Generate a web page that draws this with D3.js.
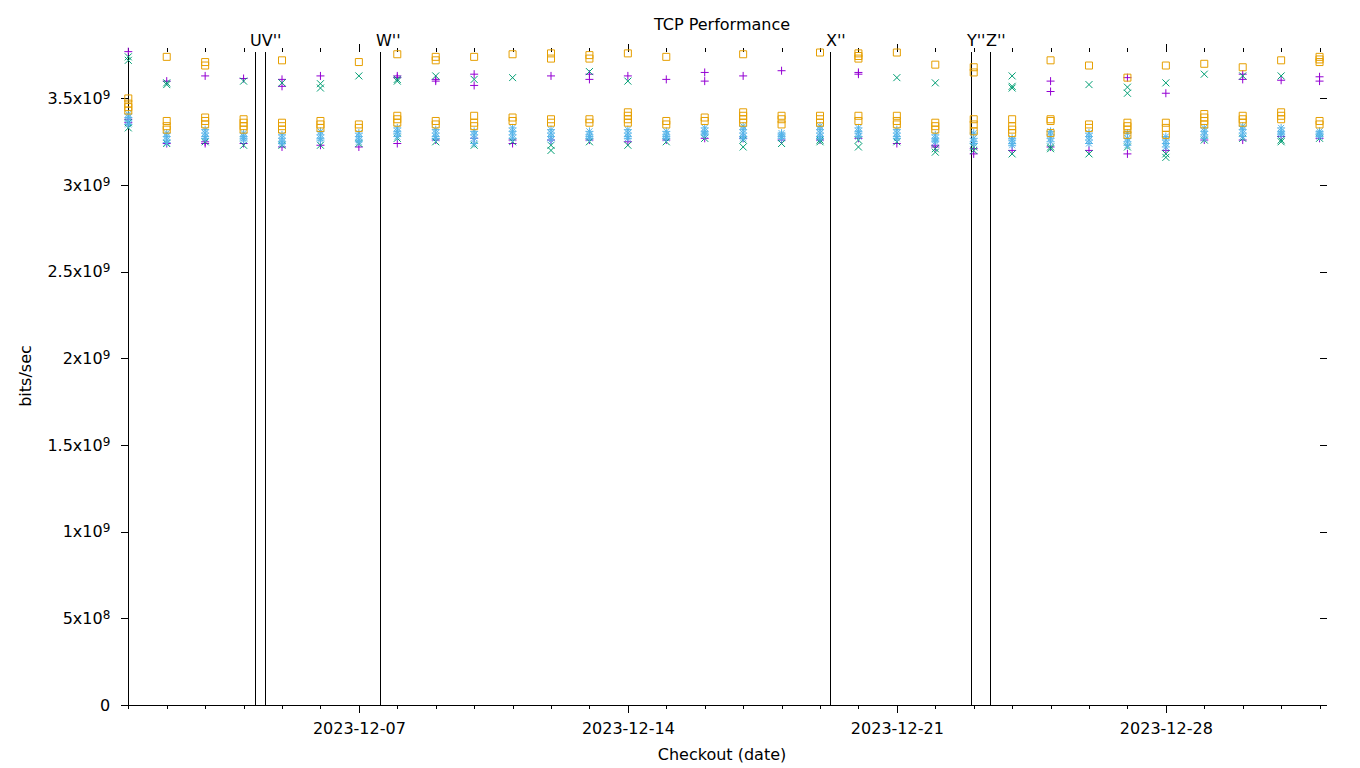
<!DOCTYPE html>
<html>
<head>
<meta charset="utf-8">
<script src="https://cdn.jsdelivr.net/npm/d3@7"></script>
<style>
body { margin: 0; background: #fff; }
text { font-family: "DejaVu Sans", sans-serif; fill: #000; }
.tick line, .domain, .event-line { shape-rendering: crispEdges; }
</style>
</head>
<body>
<div class="chart"></div>
<script>
// checkout days (x categories)
const checkoutDays = ["2023-12-01","2023-12-02","2023-12-03","2023-12-04","2023-12-05","2023-12-06",
  "2023-12-07","2023-12-08","2023-12-09","2023-12-10","2023-12-11","2023-12-12","2023-12-13",
  "2023-12-14","2023-12-15","2023-12-16","2023-12-17","2023-12-18","2023-12-19","2023-12-20",
  "2023-12-21","2023-12-22","2023-12-23","2023-12-24","2023-12-25","2023-12-26","2023-12-27",
  "2023-12-28","2023-12-29","2023-12-30","2023-12-31","2024-01-01"];

// bits/sec, in units of 1e9, one list per checkout day
const seriesPlus = [[3.77,3.38,3.36],[3.60,3.24],[3.63,3.25,3.24],[3.615,3.24],[3.61,3.57,3.22],
  [3.63,3.23],[3.22],[3.63,3.62,3.24],[3.61,3.60,3.26],[3.64,3.575,3.27],[3.24,3.26],[3.63,3.26],
  [3.64,3.61,3.26],[3.63,3.25],[3.61,3.26],[3.65,3.60,3.27],[3.63,3.27],[3.66,3.26],[3.26],
  [3.65,3.64,3.27],[3.24],[3.23,3.22],[3.21,3.18],[3.20],[3.60,3.54,3.22],[3.20],[3.62,3.18],
  [3.53,3.20],[3.26],[3.64,3.61,3.26],[3.605,3.28],[3.625,3.60,3.27]];

const seriesCross = [[3.74,3.72,3.36,3.33],[3.59,3.58,3.24],[3.25],[3.60,3.23],[3.59,3.23],
  [3.585,3.56,3.23],[3.63,3.24],[3.61,3.60,3.27],[3.63,3.25],[3.61,3.23],[3.62,3.25],[3.23,3.20],
  [3.655,3.25],[3.60,3.23],[3.25],[3.27],[3.26,3.22],[3.24],[3.25,3.26],[3.26,3.22],[3.62,3.25],
  [3.59,3.21,3.19],[3.22,3.20],[3.63,3.57,3.56,3.18],[3.22,3.21],[3.58,3.18],[3.565,3.53,3.22],
  [3.59,3.18,3.16],[3.64,3.26],[3.63,3.27],[3.63,3.26,3.25],[3.27]];

const seriesStar = [[3.41,3.39,3.37,3.35],[3.30,3.28,3.26,3.245],[3.32,3.30,3.28,3.27],
  [3.30,3.28,3.27,3.26],[3.29,3.27,3.25,3.24],[3.31,3.29,3.27,3.26],[3.30,3.28,3.26,3.25],
  [3.33,3.31,3.30,3.28],[3.32,3.30,3.28,3.27],[3.31,3.29,3.27,3.24],[3.33,3.31,3.29,3.27],
  [3.32,3.30,3.28,3.26],[3.31,3.29,3.28,3.27],[3.32,3.30,3.28,3.27],[3.31,3.29,3.28,3.27],
  [3.33,3.31,3.30,3.29],[3.34,3.32,3.30,3.28,3.27],[3.30,3.29,3.28,3.27],[3.34,3.32,3.30,3.28,3.27],
  [3.33,3.31,3.30,3.28],[3.32,3.30,3.28,3.27],[3.29,3.27,3.26,3.25],[3.30,3.27,3.25,3.24],
  [3.27,3.26,3.24,3.23],[3.31,3.29,3.27,3.25],[3.30,3.28,3.26,3.24],[3.30,3.27,3.25,3.23],
  [3.28,3.26,3.24,3.22],[3.33,3.31,3.29,3.27],[3.34,3.32,3.30,3.28],[3.33,3.31,3.30,3.29],
  [3.31,3.30,3.29,3.28]];

const seriesSquare = [[3.50,3.47,3.45,3.43],[3.74,3.37,3.34,3.32],[3.71,3.69,3.39,3.37,3.35],
  [3.38,3.36,3.34,3.32],[3.72,3.36,3.34,3.32],[3.37,3.35,3.33],[3.71,3.35,3.33],
  [3.755,3.40,3.38,3.36],[3.74,3.72,3.37,3.35],[3.74,3.40,3.36,3.34],[3.755,3.39,3.37],
  [3.76,3.73,3.38,3.36],[3.75,3.73,3.38,3.36],[3.76,3.42,3.40,3.38,3.36],[3.74,3.37,3.35],
  [3.39,3.37],[3.755,3.42,3.40,3.38,3.36],[3.40,3.38,3.35],[3.765,3.40,3.38,3.36],
  [3.76,3.745,3.73,3.40,3.37],[3.765,3.40,3.37,3.35],[3.695,3.36,3.34,3.32],
  [3.68,3.65,3.38,3.35,3.31],[3.38,3.34,3.32,3.30],[3.72,3.38,3.37,3.30],[3.69,3.35,3.33],
  [3.62,3.36,3.34,3.32,3.29],[3.69,3.36,3.33,3.29],[3.70,3.41,3.39,3.37,3.35],
  [3.68,3.40,3.38,3.36],[3.72,3.42,3.40,3.38],[3.74,3.725,3.71,3.37,3.35]];

// vertical event markers (U and V are so close their labels read as one)
const eventTimes = ["2023-12-04T07:08","2023-12-04T14:00","2023-12-07T13:49",
  "2023-12-19T06:50","2023-12-22T22:54","2023-12-23T10:47"];
const eventLabels = ["UV''","","W''","X''","Y''","Z''"];

const yTicks = [0, 5e8, 1e9, 1.5e9, 2e9, 2.5e9, 3e9, 3.5e9];
const majorDays = ["2023-12-07","2023-12-14","2023-12-21","2023-12-28"];

const parseDay = d3.timeParse("%Y-%m-%d");
const parseTime = d3.timeParse("%Y-%m-%dT%H:%M");
const days = checkoutDays.map(parseDay);

const svg = d3.select(".chart").append("svg")
  .attr("width", 1360)
  .attr("height", 768);

const xScale = d3.scaleTime()
  .domain([parseDay("2023-12-01"), parseTime("2024-01-01T04:20")])
  .range([128.3, 1326.5]);

const yScale = d3.scaleLinear()
  .domain([0, 3.768e9])
  .range([705, 52]);

const plotTop = 52, plotBottom = 705;

// bottom axis: minor daily ticks + major weekly ticks with labels
svg.append("g")
  .attr("transform", `translate(0,${plotBottom})`)
  .call(d3.axisBottom(xScale).tickValues(days).tickSize(4).tickSizeOuter(0).tickFormat(""))
  .call(g => g.select(".domain").remove());

svg.append("g")
  .attr("class", "x-axis")
  .attr("transform", `translate(0,${plotBottom})`)
  .call(d3.axisBottom(xScale).tickValues(majorDays.map(parseDay)).tickSize(8).tickSizeOuter(0)
    .tickFormat(d3.timeFormat("%Y-%m-%d")))
  .call(g => g.selectAll("text").attr("y", 18).attr("dy", "0.71em").style("font-size", "16px"));

// mirrored ticks on top
svg.append("g")
  .attr("transform", `translate(0,${plotTop})`)
  .call(d3.axisTop(xScale).tickValues(days).tickSize(4).tickSizeOuter(0).tickFormat(""))
  .call(g => g.select(".domain").remove());
svg.append("g")
  .attr("transform", `translate(0,${plotTop})`)
  .call(d3.axisTop(xScale).tickValues(majorDays.map(parseDay)).tickSize(8).tickSizeOuter(0).tickFormat(""))
  .call(g => g.select(".domain").remove());

// left axis with superscript labels
const yAxis = svg.append("g")
  .attr("class", "y-axis")
  .attr("transform", "translate(128.3,0)")
  .call(d3.axisLeft(yScale).tickValues(yTicks).tickSize(7).tickSizeOuter(0).tickFormat(""));

yAxis.selectAll(".tick text").remove();
yAxis.selectAll(".tick").each(function(d) {
  const t = d3.select(this).append("text")
    .attr("x", -18)
    .attr("y", 5)
    .attr("text-anchor", "end")
    .style("font-size", "16px");
  if (d === 0) { t.text("0"); return; }
  const e = Math.floor(Math.log10(d) + 1e-9);
  const m = d / Math.pow(10, e);
  t.append("tspan").text(m + "x10");
  t.append("tspan").attr("dy", -5).style("font-size", "12px").text(e);
});

// right mirrored ticks
svg.append("g")
  .attr("transform", "translate(1326.5,0)")
  .call(d3.axisRight(yScale).tickValues(yTicks).tickSize(-7).tickSizeOuter(0).tickFormat(""))
  .call(g => g.select(".domain").remove());

// event lines
const events = eventTimes.map((t, i) => ({ date: parseTime(t), label: eventLabels[i] }));
svg.selectAll(".event-line")
  .data(events)
  .enter()
  .append("line")
  .attr("class", "event-line")
  .attr("x1", d => xScale(d.date))
  .attr("x2", d => xScale(d.date))
  .attr("y1", plotTop)
  .attr("y2", plotBottom)
  .attr("stroke", "black")
  .attr("stroke-width", 1);

svg.selectAll(".event-label")
  .data(events.filter(d => d.label))
  .enter()
  .append("text")
  .attr("x", d => xScale(d.date) - 5)
  .attr("y", 46)
  .style("font-size", "16px")
  .text(d => d.label);

// points
const shapes = {
  plus: "M-4,0H4M0,-4V4",
  cross: "M-3.5,-3.5L3.5,3.5M-3.5,3.5L3.5,-3.5",
  star: "M-4,0H4M0,-4V4M-3,-3L3,3M-3,3L3,-3",
  square: "M-3.5,-3.5H3.5V3.5H-3.5Z"
};

const series = [
  { values: seriesPlus, color: "#9400d3", shape: "plus" },
  { values: seriesCross, color: "#009e73", shape: "cross" },
  { values: seriesStar, color: "#56b4e9", shape: "star" },
  { values: seriesSquare, color: "#e69f00", shape: "square" }
];

series.forEach(s => {
  const pts = s.values.flatMap((vals, i) => vals.map(v => ({ date: days[i], v: v * 1e9 })));
  svg.append("g")
    .selectAll("path")
    .data(pts)
    .enter()
    .append("path")
    .attr("transform", d => `translate(${xScale(d.date)},${yScale(d.v)})`)
    .attr("d", shapes[s.shape])
    .attr("fill", "none")
    .attr("stroke", s.color)
    .attr("stroke-width", 1);
});

// titles
svg.append("text")
  .attr("x", 722)
  .attr("y", 30)
  .attr("text-anchor", "middle")
  .style("font-size", "16px")
  .text("TCP Performance");

svg.append("text")
  .attr("x", 722)
  .attr("y", 760)
  .attr("text-anchor", "middle")
  .style("font-size", "16px")
  .text("Checkout (date)");

svg.append("text")
  .attr("transform", "translate(31,376) rotate(-90)")
  .attr("text-anchor", "middle")
  .style("font-size", "16px")
  .text("bits/sec");
</script>
</body>
</html>
